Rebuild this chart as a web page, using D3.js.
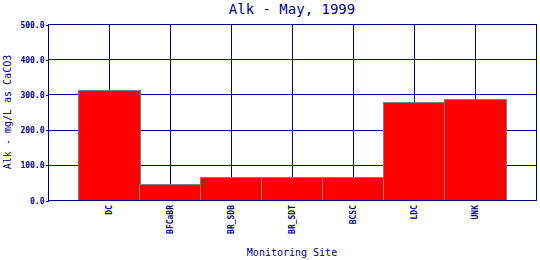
<!DOCTYPE html>
<html><head><meta charset="utf-8">
<script src="https://cdn.jsdelivr.net/npm/d3@7"></script>
<style>
html,body{margin:0;padding:0;background:#fff;}
svg{display:block;}
</style></head>
<body>
<script>
const categories = ["DC","BFCaBR","BR_SDB","BR_SDT","BCSC","LDC","UNK"];
const values = [312, 45, 65, 65, 65, 278, 288];
const yTicks = [0, 100, 200, 300, 400, 500];
const title = "Alk - May, 1999";
const xTitle = "Monitoring Site";
const yTitle = "Alk - mg/L as CaCO3";

const W = 540, H = 260;
const navy = "#000080";
const mono = "'DejaVu Sans Mono', 'Liberation Mono', monospace";
const svg = d3.select("body").append("svg").attr("width", W).attr("height", H);
svg.append("rect").attr("width", W).attr("height", H).attr("fill", "#fff");

const L = 48, R = 536, T = 24, B = 200;
const x = d3.scaleLinear().domain([0, categories.length + 1]).range([L, R]);
const y = d3.scaleLinear().domain([0, 500]).range([B, T]);
const slot = x(1) - x(0);

// grid lines
const grid = svg.append("g").attr("stroke", navy).attr("stroke-width", 1).attr("shape-rendering", "crispEdges");
grid.selectAll("line.h").data(yTicks.slice(1, -1)).join("line")
  .attr("x1", L).attr("x2", R).attr("y1", d => Math.round(y(d)) + 0.5).attr("y2", d => Math.round(y(d)) + 0.5);
grid.selectAll("line.v").data(categories).join("line")
  .attr("x1", (d, i) => Math.floor(x(i + 1)) + 0.5).attr("x2", (d, i) => Math.floor(x(i + 1)) + 0.5)
  .attr("y1", T).attr("y2", B);

// bars
svg.append("g").selectAll("rect").data(values).join("rect")
  .attr("x", (d, i) => Math.round(x(i + 1) - slot / 2) - 0.5)
  .attr("width", Math.round(slot) + 1)
  .attr("y", d => Math.round(y(d)) + 0.5)
  .attr("height", d => Math.round(y(0)) - Math.round(y(d)))
  .attr("fill", "#ff0000").attr("stroke", "#808080").attr("stroke-width", 1)
  .attr("shape-rendering", "crispEdges");

// frame
svg.append("rect").attr("x", L + 0.5).attr("y", T + 0.5).attr("width", R - L).attr("height", B - T)
  .attr("fill", "none").attr("stroke", navy).attr("stroke-width", 1).attr("shape-rendering", "crispEdges");

// y axis
const yAxis = d3.axisLeft(y).tickValues(yTicks).tickFormat(d3.format(".1f")).tickSize(3).tickPadding(1);
const ya = svg.append("g").attr("transform", `translate(${L + 0.5},0.5)`).call(yAxis);
ya.select(".domain").remove();
ya.selectAll(".tick line").attr("stroke", navy).attr("shape-rendering", "crispEdges");
ya.selectAll(".tick text").attr("fill", navy).attr("font-family", mono).attr("font-size", 8).attr("font-weight", "bold");

// x labels
const xa = svg.append("g");
xa.selectAll("text").data(categories).join("text")
  .attr("transform", (d, i) => `translate(${x(i + 1)},${B + 5}) rotate(-90)`)
  .attr("text-anchor", "end").attr("dy", "0.35em")
  .attr("fill", navy).attr("font-family", mono).attr("font-size", 8).attr("font-weight", "bold")
  .text(d => d);

// titles
svg.append("text").attr("x", (L + R) / 2).attr("y", 13.5).attr("text-anchor", "middle")
  .attr("fill", navy).attr("font-family", mono).attr("font-size", 14).text(title);
svg.append("text").attr("x", (L + R) / 2).attr("y", 256).attr("text-anchor", "middle")
  .attr("fill", navy).attr("font-family", mono).attr("font-size", 10).text(xTitle);
svg.append("text").attr("transform", `translate(11,${(T + B) / 2}) rotate(-90)`).attr("text-anchor", "middle")
  .attr("fill", navy).attr("font-family", mono).attr("font-size", 10).text(yTitle);
</script>
</body></html>
